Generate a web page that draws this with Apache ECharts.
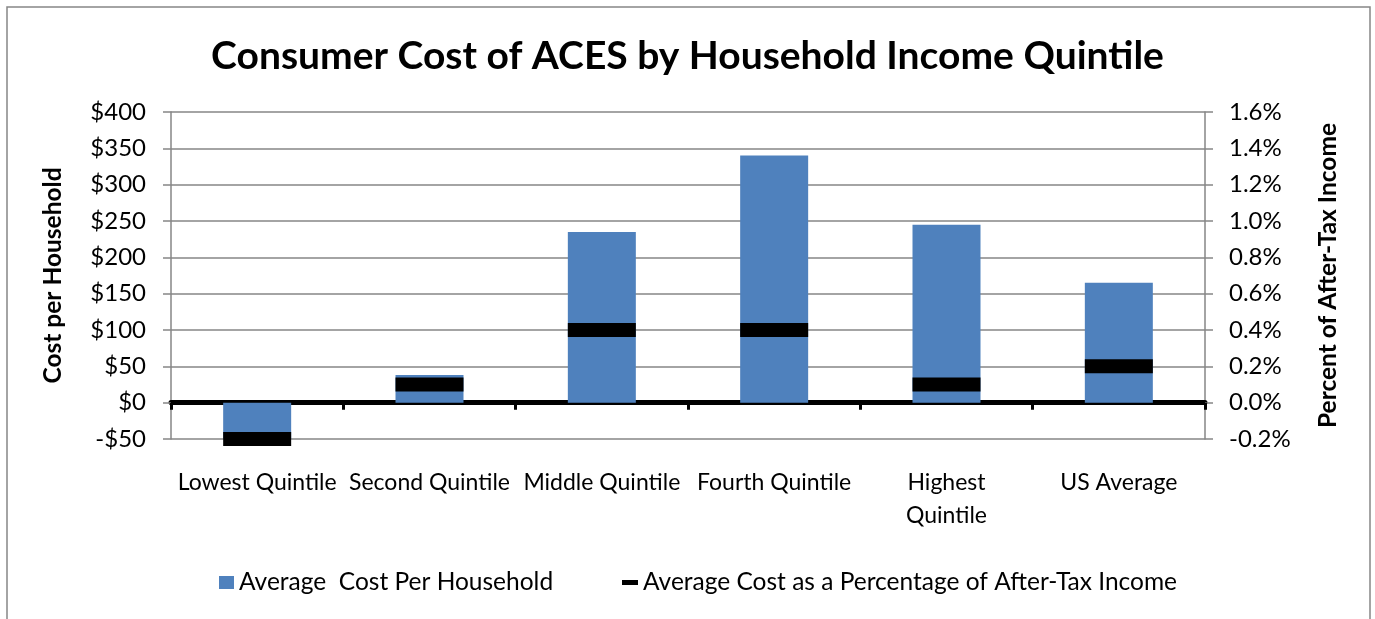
<!DOCTYPE html>
<html><head><meta charset="utf-8">
<script src="https://cdn.jsdelivr.net/npm/echarts@6/dist/echarts.min.js"></script>
<style>html,body{margin:0;padding:0;background:#fff}#c{width:1375px;height:619px}</style>
</head><body><div id="c"></div>
<script>
const categories = ['Lowest Quintile','Second Quintile','Middle Quintile','Fourth Quintile','Highest Quintile','US Average'];
const costPerHousehold = [-50, 38, 235, 340, 245, 165];
const pctAfterTax = [-0.2, 0.1, 0.4, 0.4, 0.1, 0.2];
const leftTicks = {min: -50, max: 400, interval: 50};
const rightTicks = {min: -0.2, max: 1.6, interval: 0.2};

const FONT = 'Lato';
const chart = echarts.init(document.getElementById('c'));
chart.setOption({
  animation: false,
  backgroundColor: '#fff',
  textStyle: {fontFamily: FONT},
  graphic: [{type: 'rect', shape: {x: 7, y: 7, width: 1363, height: 640}, style: {fill: 'none', stroke: '#868686', lineWidth: 1.5}, silent: true}],
  title: {text: 'Consumer Cost of ACES by Household Income Quintile', left: 'center', top: 32,
    textStyle: {fontFamily: FONT, fontWeight: 'bold', fontSize: 39, color: '#000'}},
  grid: {left: 171, right: 170, top: 112, bottom: 180, containLabel: false},
  legend: [{
    data: ['Average  Cost Per Household'], left: 214, top: 565, itemWidth: 15, itemHeight: 13, itemGap: 5,
    textStyle: {fontFamily: FONT, fontSize: 24.5, color: '#000'}, icon: 'rect'
  }, {
    data: ['Average Cost as a Percentage of After-Tax Income'], left: 617, top: 565, itemWidth: 16, itemHeight: 5, itemGap: 4,
    textStyle: {fontFamily: FONT, fontSize: 24.5, color: '#000'}, icon: 'rect'
  }],
  xAxis: [{
    type: 'category', data: categories, position: 'bottom',
    axisLine: {show: false, onZero: false}, axisTick: {show: false},
    axisLabel: {margin: 27, fontFamily: FONT, fontSize: 23, color: '#000', interval: 0, lineHeight: 33,
      formatter: v => v === 'Highest Quintile' ? 'Highest\nQuintile' : v}
  }, {
    type: 'category', data: categories, position: 'bottom',
    axisLine: {show: true, onZero: true, lineStyle: {color: '#000', width: 5}},
    axisTick: {show: true, length: 7, lineStyle: {color: '#000', width: 3}},
    axisLabel: {show: false}
  }],
  yAxis: [{
    type: 'value', min: leftTicks.min, max: leftTicks.max, interval: leftTicks.interval,
    name: 'Cost per Household', nameLocation: 'middle', nameGap: 105,
    nameTextStyle: {fontFamily: FONT, fontWeight: 'bold', fontSize: 24.5, color: '#000'},
    axisLine: {show: true, lineStyle: {color: '#868686', width: 1.5}},
    axisTick: {show: true, length: 8, lineStyle: {color: '#868686', width: 1.5}},
    splitLine: {show: true, lineStyle: {color: '#868686', width: 1.5}},
    axisLabel: {margin: 25, fontFamily: FONT, fontSize: 24, color: '#000',
      formatter: v => (v < 0 ? '-$' + Math.abs(v) : '$' + v)}
  }, {
    type: 'value', min: rightTicks.min, max: rightTicks.max, interval: rightTicks.interval,
    name: 'Percent of After-Tax Income', nameLocation: 'middle', nameGap: 111,
    nameTextStyle: {fontFamily: FONT, fontWeight: 'bold', fontSize: 24.5, color: '#000'},
    axisLine: {show: true, lineStyle: {color: '#868686', width: 1.5}},
    axisTick: {show: true, length: 8, lineStyle: {color: '#868686', width: 1.5}},
    splitLine: {show: false},
    axisLabel: {margin: 24, fontFamily: FONT, fontSize: 24, color: '#000',
      formatter: v => v.toFixed(1) + '%'}
  }],
  series: [{
    name: 'Average  Cost Per Household', type: 'bar', data: costPerHousehold,
    xAxisIndex: 0, yAxisIndex: 0, barWidth: 68,
    itemStyle: {color: '#4F81BD'}
  }, {
    name: 'Average Cost as a Percentage of After-Tax Income', type: 'scatter', data: pctAfterTax,
    xAxisIndex: 0, yAxisIndex: 1, symbol: 'rect', symbolSize: [68, 14], z: 5,
    itemStyle: {color: '#000', opacity: 1}
  }]
});
</script></body></html>
